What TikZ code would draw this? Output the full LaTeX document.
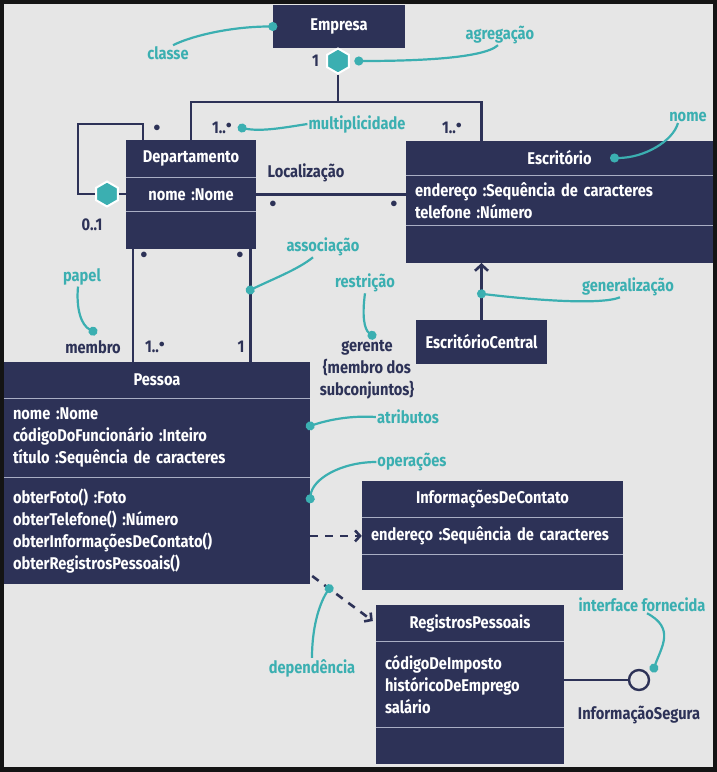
\documentclass[tikz,border=0pt]{standalone}
\usepackage{fontspec}
\setmainfont{Fira Sans}[FakeStretch=0.86]
\usetikzlibrary{positioning, arrows.meta, shapes.geometric}
\definecolor{navy}{HTML}{2D3257}
\definecolor{accent}{HTML}{3BAFB1}
\definecolor{paper}{HTML}{E6E6E6}
\definecolor{frame}{HTML}{141414}
\definecolor{sepline}{HTML}{A9AEC4}
\newcommand{\mstar}{\raisebox{5.5pt}{\fontsize{13}{13}\selectfont$\bullet$}}
\newcommand{\mdot}{{\fontsize{15}{15}\selectfont$\bullet$}}
\tikzset{
every node/.style={font=\fontsize{17}{22}\selectfont\bfseries}, % all texts
hdr/.style={fill=navy, text=white, minimum height=36pt, inner sep=0pt}, % class name
cmp/.style={fill=navy, text=white, align=left, inner xsep=9pt, inner ysep=0pt, anchor=north}, % compartment
sep/.style={draw=sepline, line width=1.2pt},
link/.style={draw=navy, line width=2.6pt},
depl/.style={link, dash pattern=on 8pt off 7pt, -{Straight Barb[length=5pt, width=11pt]}},
mult/.style={text=navy, inner sep=1pt},
tag/.style={text=accent, inner sep=1pt},
note/.style={draw=accent, line width=2.2pt, -{Circle[length=9pt]}, shorten >=-4.5pt},
agg/.style={regular polygon, regular polygon sides=6, shape border rotate=30, fill=accent, draw=white, line width=2pt, minimum size=25pt, inner sep=0pt},
}
\begin{document}
\begin{tikzpicture}[x=1pt, y=-1pt]
\fill[frame] (0,0) rectangle (717,772);
\fill[paper] (4,4) rectangle (713,767);

% classes
\node[hdr, minimum width=132pt, minimum height=43pt] (emp) at (339,26.5) {Empresa};

\node[hdr, minimum width=130pt, minimum height=37pt] (dep) at (191,158.5) {Departamento};
\node[cmp, text width=112pt, minimum height=34pt, align=center, below=0pt of dep] (dep2) {nome :Nome};
\node[cmp, text width=112pt, minimum height=37pt, below=0pt of dep2] (dep3) {};

\node[hdr, minimum width=307pt, minimum height=34pt] (esc) at (559.5,158) {Escritório};
\node[cmp, text width=289pt, minimum height=50pt, below=0pt of esc] (esc2) {endereço :Sequência de caracteres\\telefone :Número};
\node[cmp, text width=289pt, minimum height=37pt, below=0pt of esc2] (esc3) {};

\node[hdr, minimum width=131pt, minimum height=44pt] (ecen) at (481.5,342) {EscritórioCentral};

\node[hdr, minimum width=306pt] (pes) at (157,380) {Pessoa};
\node[cmp, text width=288pt, minimum height=79pt, below=0pt of pes] (pes2) {nome :Nome\\códigoDoFuncionário :Inteiro\\título :Sequência de caracteres};
\node[cmp, text width=288pt, minimum height=106pt, below=0pt of pes2] (pes3) {obterFoto() :Foto\\obterTelefone() :Número\\obterInformaçõesDeContato()\\obterRegistrosPessoais()};

\node[hdr, minimum width=261pt] (ic) at (492.5,499) {InformaçõesDeContato};
\node[cmp, text width=243pt, minimum height=37pt, below=0pt of ic] (ic2) {endereço :Sequência de caracteres};
\node[cmp, text width=243pt, minimum height=35pt, below=0pt of ic2] (ic3) {};

\node[hdr, minimum width=188pt] (rp) at (470,623) {RegistrosPessoais};
\node[cmp, text width=170pt, minimum height=86pt, below=0pt of rp] (rp2) {códigoDeImposto\\históricoDeEmprego\\salário};
\node[cmp, text width=170pt, minimum height=36pt, below=0pt of rp2] (rp3) {};

\foreach \a in {dep,dep2,esc,esc2,pes,pes2,ic,ic2,rp,rp2}
  \draw[sep] (\a.south west) -- (\a.south east);

% aggregation
\node[agg] (agg) at (338,61) {};
\node[mult, left=6pt of agg] (n1) {1};
\coordinate (bus) at (338,102);
\draw[link] (agg.south) -- (bus) -| (dep.north);
\draw[link] (bus) -| (ecen.north |- esc.north);
\node[mult] (m1) at (222,128) {1..\mstar};
\node[mult] (m2) at (452,128) {1..\mstar};

% self association
\node[agg] (sagg) at (107,194) {};
\coordinate (loop) at (78,124);
\draw[link] (sagg.east) -- (sagg.east -| dep2.west);
\draw[link] (sagg.west) -| (loop) -| ([xshift=17pt]dep.north west);
\node[mult] (d1) at (157,128) {\mdot};
\node[mult] (lzero) at (92,225) {0..1};

% Localização
\draw[link] (dep2.east) -- (dep2.east -| esc2.west);
\node[mult] (lloc) at (306,173) {Localização};
\node[mult] (d2) at (273,204) {\mdot};
\node[mult] (d3) at (394,204) {\mdot};

% membro / gerente
\draw[link] ([xshift=7pt]dep3.south west) -- ([xshift=7pt]dep3.south west |- pes.north);
\draw[link] ([xshift=-6pt]dep3.south east) -- ([xshift=-6pt]dep3.south east |- pes.north);
\node[mult] (d4) at (144,255) {\mdot};
\node[mult] (d5) at (240,255) {\mdot};
\node[mult] (lmem) at (93,347) {membro};
\node[mult] (m3) at (155,347) {1..\mstar};
\node[mult] (m4) at (241,347) {1};
\node[mult, align=center] (lger) at (367,370) {gerente\\\{membro dos\\subconjuntos\}};

% generalization and dependencies
\draw[link, -{Straight Barb[length=6pt, width=13pt]}] (ecen.north) -- (ecen.north |- esc3.south);
\draw[depl] (pes3.east |- ic2.center) -- (ic2.west);
\draw[depl] ([xshift=2pt, yshift=8pt]pes3.south east) -- coordinate[pos=0.28] (dd) ([xshift=-3pt, yshift=2pt]rp.west);

% interface
\node[circle, draw=navy, line width=2.4pt, fill=paper, minimum size=20pt, inner sep=0pt] (iface) at (639,680) {};
\draw[link] (iface.west -| rp2.east) -- (iface.west);
\node[mult] (lsec) at (639,715) {InformaçãoSegura};

% notes
\node[tag] (lclasse) at (168,53) {classe};
\node[tag] (lagr) at (500,35) {agregação};
\node[tag] (lmul) at (357,124) {multiplicidade};
\node[tag] (lnome) at (688,117) {nome};
\node[tag] (lassoc) at (323,247) {associação};
\node[tag] (lpap) at (82,277) {papel};
\node[tag] (lres) at (365,283) {restrição};
\node[tag] (lgen) at (628,287) {generalização};
\node[tag] (latr) at (408,417) {atributos};
\node[tag] (lop) at (412,462) {operações};
\node[tag] (ldep) at (312,668) {dependência};
\node[tag] (lif) at (642,605) {interface fornecida};

\draw[note] ([xshift=5pt]lclasse.north) .. controls +(20,-10) and +(-40,0) .. (emp.west);
\draw[note] ([xshift=-2pt]lagr.south) .. controls +(-15,14) and +(50,0) .. ([xshift=9pt]agg.east);
\draw[note] (lmul.west) .. controls +(-20,3) and +(20,4) .. ([xshift=9pt]m1.east);
\draw[note] ([xshift=-10pt]lnome.south) .. controls +(-5,18) and +(30,0) .. ([xshift=55pt]esc.center);
\draw[note] ([xshift=-8pt]lgen.south) .. controls +(-20,8) and +(50,6) .. ([yshift=26pt]ecen.north);
\draw[note] ([xshift=-10pt]lassoc.south) .. controls +(-15,12) and +(25,-12) .. ([xshift=-6pt, yshift=-41pt]dep3.south east);
\draw[note] ([xshift=-4pt]lpap.south) .. controls +(-2,22) and +(-12,-6) .. ([yshift=8pt]lmem.north);
\draw[note] (lres.south) .. controls +(-3,22) and +(-8,-6) .. ([xshift=5pt, yshift=4pt]lger.north);
\draw[note] (latr.west) .. controls +(-30,-2) and +(12,-4) .. ([yshift=12pt]pes2.east);
\draw[note] (lop.west) .. controls +(-35,0) and +(2,-20) .. ([yshift=32pt]pes3.east);
\draw[note] (ldep.north) .. controls +(0,-35) and +(-8,12) .. (dd);
\draw[note] ([xshift=5pt]lif.south) .. controls +(28,15) and +(8,-22) .. ([xshift=7pt, yshift=4pt]iface.north east);
\end{tikzpicture}
\end{document}
